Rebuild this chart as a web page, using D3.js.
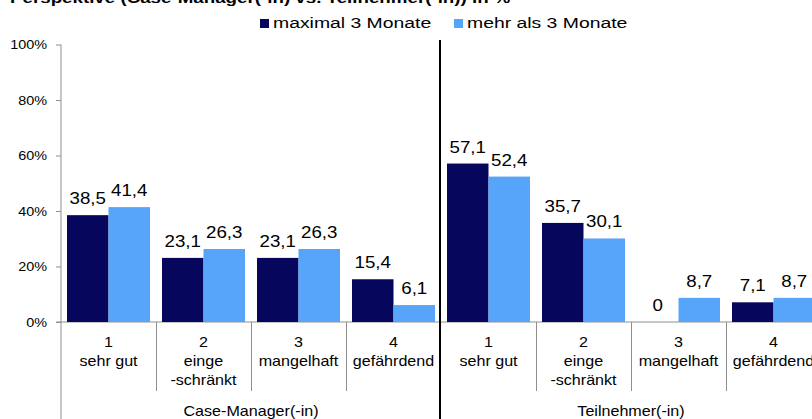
<!DOCTYPE html>
<html><head><meta charset="utf-8">
<script src="https://cdn.jsdelivr.net/npm/d3@7"></script>
<style>body{margin:0;background:#fff}svg{display:block;font-family:Arial,"Liberation Sans",sans-serif}</style>
</head><body>
<svg id="c" width="812" height="419"></svg>
<script>
const title = "Perspektive (Case-Manager(-in) vs. Teilnehmer(-in)) in %";
const groups = ["Case-Manager(-in)", "Teilnehmer(-in)"];
const categoryNums = ["1", "2", "3", "4"];
const categoryNames = [["sehr gut"], ["einge", "-schränkt"], ["mangelhaft"], ["gefährdend"]];
const seriesNames = ["maximal 3 Monate", "mehr als 3 Monate"];
const seriesColors = ["#06065c", "#57a5fa"];
const caseManagerShort = [38.5, 23.1, 23.1, 15.4];
const caseManagerLong = [41.4, 26.3, 26.3, 6.1];
const teilnehmerShort = [57.1, 35.7, 0, 7.1];
const teilnehmerLong = [52.4, 30.1, 8.7, 8.7];
const yTicks = [0, 20, 40, 60, 80, 100];

const svg = d3.select("#c");
const SX = 1.2;
const gray = "#8f8f8f";

const rows = [];
groups.forEach((g, gi) => {
  const s = gi === 0 ? caseManagerShort : teilnehmerShort;
  const l = gi === 0 ? caseManagerLong : teilnehmerLong;
  categoryNums.forEach((c, ci) => {
    rows.push({key: g + "|" + c, group: gi, cat: ci, vals: [s[ci], l[ci]]});
  });
});

const x = d3.scaleBand().domain(rows.map(r => r.key)).range([61, 821]).padding(0);
const xs = d3.scaleBand().domain([0, 1]).range([6, x.bandwidth() - 6]).padding(0);
const y = d3.scaleLinear().domain([0, 100]).range([322, 44.5]);

function stext(parent, tx, ty, str, size, anchor, sx, weight) {
  return parent.append("text")
    .attr("transform", `translate(${tx},${ty}) scale(${sx || SX},1)`)
    .attr("text-anchor", anchor || "middle")
    .attr("font-size", size)
    .attr("font-weight", weight || "normal")
    .attr("fill", "#000")
    .text(str);
}

// title (mostly cut off at top)
stext(svg, 10, 2.5, title, 15, "start", 1.25, "bold");

// y axis
const yAxis = svg.append("g").attr("transform", "translate(61,0)")
  .call(d3.axisLeft(y).tickValues(yTicks).tickFormat(d => d + "%").tickSize(5).tickSizeOuter(0));
yAxis.select(".domain").remove();
yAxis.selectAll(".tick line").attr("stroke", gray);
yAxis.selectAll(".tick text")
  .attr("x", -14 / SX).attr("dy", "0.36em")
  .attr("transform", `scale(${SX},1)`)
  .attr("font-size", 12).attr("font-family", "Arial, 'Liberation Sans', sans-serif").attr("fill", "#000");
svg.append("line").attr("x1", 61).attr("x2", 61).attr("y1", y(100)).attr("y2", 419).attr("stroke", gray);

// baseline
svg.append("line").attr("x1", 56).attr("x2", 812).attr("y1", y(0)).attr("y2", y(0)).attr("stroke", gray);

// category separators
rows.forEach((r, i) => {
  if (r.cat > 0) {
    svg.append("line").attr("x1", x(r.key) + 0.5).attr("x2", x(r.key) + 0.5)
      .attr("y1", y(0)).attr("y2", 391).attr("stroke", gray);
  }
});

// bars
const cg = svg.selectAll("g.cat").data(rows).enter().append("g")
  .attr("transform", d => `translate(${x(d.key)},0)`);
cg.selectAll("rect").data(d => d.vals.map((v, si) => ({v, si}))).enter().append("rect")
  .attr("x", d => xs(d.si)).attr("width", xs.bandwidth())
  .attr("y", d => y(d.v)).attr("height", d => y(0) - y(d.v))
  .attr("fill", d => seriesColors[d.si]);
cg.each(function(d) {
  const g = d3.select(this);
  d.vals.forEach((v, si) => {
    stext(g, xs(si) + xs.bandwidth() / 2, y(v) - 11, String(v).replace(".", ","), 16, "middle", 1.17);
  });
  const cx = x.bandwidth() / 2;
  stext(g, cx, 347, categoryNums[d.cat], 14, "middle", 1.15);
  categoryNames[d.cat].forEach((ln, li) => stext(g, cx, 366 + li * 19, ln, 14, "middle", 1.15));
});

// group labels
groups.forEach((gname, gi) => {
  const first = x(rows[gi * 4].key);
  const last = x(rows[gi * 4 + 3].key) + x.bandwidth();
  stext(svg, (first + last) / 2, 416, gname, 14, "middle", 1.15);
});

// group divider
svg.append("line").attr("x1", 440).attr("x2", 440).attr("y1", 40).attr("y2", 419)
  .attr("stroke", "#000").attr("stroke-width", 2);

// legend
const legX = [260, 454];
seriesNames.forEach((n, i) => {
  svg.append("rect").attr("x", legX[i]).attr("y", 19).attr("width", 9).attr("height", 9)
    .attr("fill", seriesColors[i]);
  stext(svg, legX[i] + 13, 28, n, 15.5, "start", 1.25);
});
</script>
</body></html>
